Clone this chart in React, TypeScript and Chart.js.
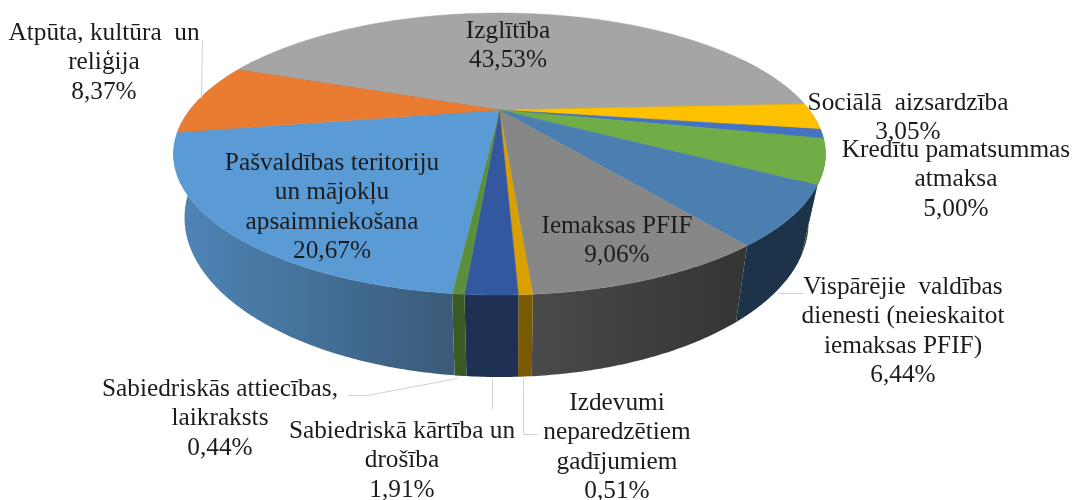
import React, { useEffect, useRef } from "react";
import { Chart, registerables } from "chart.js";

Chart.register(...registerables);

// Data, clockwise from the top (grey) slice
const categories = [
  "Izglītība",
  "Sociālā aizsardzība",
  "Veselība",
  "Kredītu pamatsummas atmaksa",
  "Vispārējie valdības dienesti (neieskaitot iemaksas PFIF)",
  "Iemaksas PFIF",
  "Izdevumi neparedzētiem gadījumiem",
  "Sabiedriskā kārtība un drošība",
  "Sabiedriskās attiecības, laikraksts",
  "Pašvaldības teritoriju un mājokļu apsaimniekošana",
  "Atpūta, kultūra un reliģija",
];
const values = [43.53, 3.05, 1.02, 5.0, 6.44, 9.06, 0.51, 1.91, 0.44, 20.67, 8.37];
const percentText = ["43,53%", "3,05%", "", "5,00%", "6,44%", "9,06%", "0,51%", "1,91%", "0,44%", "20,67%", "8,37%"];
const labelLines = [
  ["Izglītība"],
  ["Sociālā  aizsardzība"],
  [],
  ["Kredītu pamatsummas", "atmaksa"],
  ["Vispārējie  valdības", "dienesti (neieskaitot", "iemaksas PFIF)"],
  ["Iemaksas PFIF"],
  ["Izdevumi", "neparedzētiem", "gadījumiem"],
  ["Sabiedriskā kārtība un", "drošība"],
  ["Sabiedriskās attiecības,", "laikraksts"],
  ["Pašvaldības teritoriju", "un mājokļu", "apsaimniekošana"],
  ["Atpūta, kultūra  un", "reliģija"],
];

// Styling
const topColors = ["#a5a5a5", "#ffc000", "#4472c4", "#70ad47", "#4a7fb0", "#878787", "#d9a000", "#34589f", "#5b8f3c", "#5b9bd5", "#e97c30"];
const wallFrom = ["#555555", "#806000", "#223962", "#38572a", "#1d3349", "#343434", "#7a5a00", "#1f3055", "#3a5a24", "#3a5a78", "#4f86b8"];
const wallTo = ["#555555", "#806000", "#223962", "#38572a", "#1d3349", "#4a4a4a", "#7a5a00", "#1f3055", "#3a5a24", "#4f86b8", "#4f86b8"];

// Layout of each label: centre x, first line middle y
const labelPos: [number, number][] = [
  [508, 31], [908, 103], [0, 0], [956, 150], [903, 287], [617, 226], [617, 403], [402, 431], [220, 389], [332, 163], [104, 33],
];
const lineStep = 29.6;
const leaders: number[][][] = [
  [[202, 40], [201, 98]],
  [[347, 395], [367, 395], [457, 378]],
  [[492, 378], [492, 409]],
  [[523, 378], [523, 434], [537, 434]],
  [[778, 293], [803, 293]],
];

type Ell = { ex: number; ey: number; rx: number; ry: number; p: number; skew: number };
const topEll: Ell = { ex: 499.5, ey: 154, rx: 326, ry: 141, p: -0.312, skew: 0 };
const botEll: Ell = { ex: 495, ey: 220, rx: 312, ry: 157, p: -0.312, skew: 5 };

function project(e: Ell, a: number): [number, number] {
  const u = Math.cos(a);
  const v = Math.sin(a);
  const w = 1 + e.p * v;
  const A = e.ry * (1 - e.p * e.p);
  const B = e.rx * Math.sqrt(1 - e.p * e.p);
  return [e.ex + (B * u) / w + e.skew * v, e.ey + e.ry * e.p + (A * v) / w];
}

const pie3d = {
  id: "pie3d",
  beforeDatasetsDraw(chart: any) {
    const ctx: CanvasRenderingContext2D = chart.ctx;
    const arcs = chart.getDatasetMeta(0).data;
    const step = Math.PI / 360;

    // walls
    arcs.forEach((arc: any, i: number) => {
      const s = arc.startAngle;
      const t = arc.endAngle;
      const top: [number, number][] = [];
      const bot: [number, number][] = [];
      for (let a = s; ; a += step) {
        const b = Math.min(a, t);
        if (Math.sin(b) > -0.45) {
          top.push(project(topEll, b));
          bot.push(project(botEll, b));
        }
        if (a >= t) break;
      }
      if (top.length < 2) return;
      const xs = top.concat(bot).map((q) => q[0]);
      const g = ctx.createLinearGradient(Math.max(...xs), 0, Math.min(...xs), 0);
      g.addColorStop(0, wallFrom[i]);
      g.addColorStop(1, wallTo[i]);
      ctx.fillStyle = g;
      ctx.beginPath();
      top.forEach((q, k) => (k ? ctx.lineTo(q[0], q[1]) : ctx.moveTo(q[0], q[1])));
      bot.reverse().forEach((q) => ctx.lineTo(q[0], q[1]));
      ctx.closePath();
      ctx.fill();
    });

    // top face
    const cy = topEll.ey + topEll.ry * topEll.p;
    arcs.forEach((arc: any, i: number) => {
      const s = arc.startAngle;
      const t = arc.endAngle;
      ctx.fillStyle = topColors[i];
      ctx.strokeStyle = topColors[i];
      ctx.lineWidth = 0.5;
      ctx.beginPath();
      ctx.moveTo(topEll.ex, cy);
      for (let a = s; ; a += step) {
        const b = Math.min(a, t);
        const q = project(topEll, b);
        ctx.lineTo(q[0], q[1]);
        if (a >= t) break;
      }
      ctx.closePath();
      ctx.fill();
      ctx.stroke();
    });

    // leader lines
    ctx.strokeStyle = "#d2d2d2";
    ctx.lineWidth = 1;
    leaders.forEach((l) => {
      ctx.beginPath();
      l.forEach((q, k) => (k ? ctx.lineTo(q[0] + 0.5, q[1] + 0.5) : ctx.moveTo(q[0] + 0.5, q[1] + 0.5)));
      ctx.stroke();
    });

    // labels
    ctx.fillStyle = "#1c1c1c";
    ctx.font = '25.3px "Liberation Serif"';
    ctx.textAlign = "center";
    ctx.textBaseline = "middle";
    categories.forEach((_, i) => {
      const lines = labelLines[i];
      if (!lines.length) return;
      const [x, y] = labelPos[i];
      lines.concat(percentText[i]).forEach((ln, k) => ctx.fillText(ln, x, y + k * lineStep));
    });
    return false;
  },
};

export default function App() {
  const ref = useRef<HTMLCanvasElement>(null);
  useEffect(() => {
    const chart = new Chart(ref.current!, {
      type: "pie",
      data: {
        labels: categories,
        datasets: [{ data: values, backgroundColor: topColors }],
      },
      options: {
        animation: false,
        responsive: false,
        rotation: -69.4,
        plugins: { legend: { display: false }, tooltip: { enabled: false } },
      },
      plugins: [pie3d],
    } as any);
    return () => chart.destroy();
  }, []);
  return (
    <canvas
      ref={ref}
      width={1074}
      height={500}
      style={{ position: "absolute", left: 0, top: 0, display: "block", background: "#fff" }}
    />
  );
}
